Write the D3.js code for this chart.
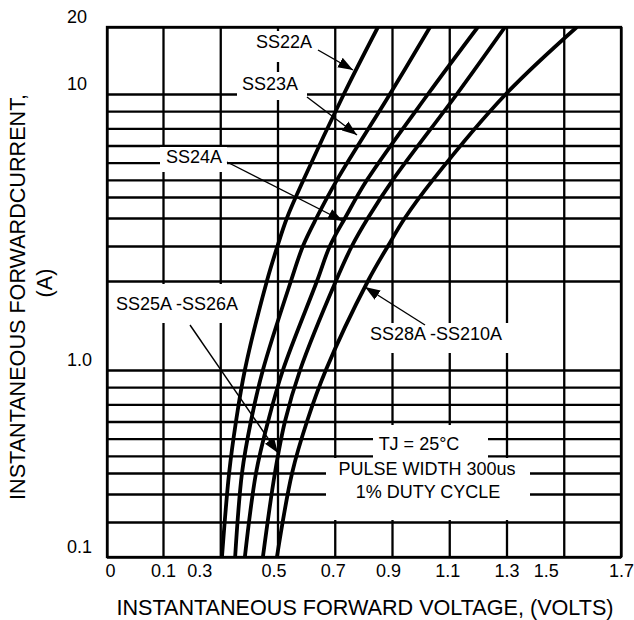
<!DOCTYPE html>
<html>
<head>
<meta charset="utf-8">
<script src="https://cdn.jsdelivr.net/npm/d3@7"></script>
<style>
  body { margin: 0; background: #fff; }
  text { font-family: "Liberation Sans", Arial, sans-serif; fill: #000; }
</style>
</head>
<body>
<div id="chart"></div>
<script>
// Horizontal grid of the datasheet paper (A)
const gridCurrents = [0.1, 0.2, 0.3, 0.4, 0.5, 0.6, 0.7, 0.8, 0.9, 1, 1.5, 2, 3, 4, 5, 6, 7, 8, 9, 10, 20];

// Forward current (A) at which every curve is read
const currents = [0.1, 0.4, 0.7, 1, 1.5, 2, 3, 5, 10, 20];

// Forward voltage (V) of each curve at those currents
const ss22a = [0.306, 0.331, 0.355, 0.386, 0.463, 0.500, 0.533, 0.591, 0.732, 0.851];
const ss23a = [0.352, 0.376, 0.407, 0.449, 0.547, 0.589, 0.636, 0.708, 0.893, 1.033];
const ss24a = [0.386, 0.425, 0.467, 0.519, 0.638, 0.683, 0.736, 0.813, 1.026, 1.200];
const ss25a = [0.449, 0.491, 0.526, 0.579, 0.704, 0.760, 0.816, 0.903, 1.127, 1.295];
const ss28a = [0.498, 0.551, 0.603, 0.669, 0.816, 0.886, 0.945, 1.043, 1.298, 1.546];

// Axis ticks
const xTicks = [0, 0.1, 0.3, 0.5, 0.7, 0.9, 1.1, 1.3, 1.5, 1.7];
const xTickLabels = ["0", "0.1", "0.3", "0.5", "0.7", "0.9", "1.1", "1.3", "1.5", "1.7"];
const yTicks = [20, 10, 1, 0.1];
const yTickLabels = ["20", "10", "1.0", "0.1"];

// Curve labels
const seriesNames = ["SS22A", "SS23A", "SS24A", "SS25A -SS26A", "SS28A -SS210A"];
const seriesValues = [ss22a, ss23a, ss24a, ss25a, ss28a];
const conditions = ["TJ = 25°C", "PULSE WIDTH 300us", "1% DUTY CYCLE"];

const margin = { top: 27, left: 107 };
const width = 514, height = 530;

const svg = d3.select("#chart")
    .append("svg")
    .attr("width", 634)
    .attr("height", 620);

const g = svg.append("g")
    .attr("transform", "translate(" + margin.left + "," + margin.top + ")");

// x: first division is 0 - 0.1, every other one is 0.2 wide
const x = d3.scaleLinear()
    .domain([0, 0.1, 1.7])
    .range([0, 56, width]);

// y: the hand drawn log-like paper of the datasheet
const y = d3.scaleLinear()
    .domain([0.1, 0.2, 0.3, 0.4, 1, 1.5, 2, 3, 4, 10, 20])
    .range([530, 495, 467, 446, 343, 254, 219, 191, 170, 67, 0]);

// Grid
const gridY = g.append("g")
    .call(d3.axisLeft(y).tickValues(gridCurrents).tickSize(-width).tickFormat(""));
const gridX = g.append("g")
    .attr("transform", "translate(0," + height + ")")
    .call(d3.axisBottom(x).tickValues(xTicks).tickSize(-height).tickFormat(""));
[gridX, gridY].forEach(a => {
    a.select(".domain").remove();
    a.selectAll("line").attr("stroke", "#000").attr("stroke-width", 2.3);
});

// White boxes behind the texts break the grid lines
const boxes = [
    [144, 4, 68, 31], [130, 45, 70, 28], [53, 120, 67, 25],
    [5, 257, 136, 39], [258, 296, 147, 30], [266, 398, 115, 33], [219, 431, 204, 62]
];
g.selectAll(".box")
    .data(boxes)
    .enter().append("rect")
    .attr("x", d => d[0]).attr("y", d => d[1])
    .attr("width", d => d[2]).attr("height", d => d[3])
    .attr("fill", "#fff");

g.append("rect")
    .attr("width", width).attr("height", height)
    .attr("fill", "none").attr("stroke", "#000").attr("stroke-width", 2.3);

// Curves
g.append("clipPath").attr("id", "plot")
    .append("rect").attr("width", width).attr("height", height);

const line = d3.line()
    .x(d => x(d[0]))
    .y(d => y(d[1]))
    .curve(d3.curveCatmullRom.alpha(0.5));

g.append("g")
    .attr("clip-path", "url(#plot)")
    .selectAll("path")
    .data(seriesValues)
    .enter().append("path")
    .attr("d", v => line(v.map((d, i) => [d, currents[i]])))
    .attr("fill", "none")
    .attr("stroke", "#000")
    .attr("stroke-width", 3.8);

// Arrows from labels to curves
svg.append("defs").append("marker")
    .attr("id", "head")
    .attr("markerUnits", "userSpaceOnUse")
    .attr("viewBox", "0 -6 15 12")
    .attr("refX", 15).attr("refY", 0)
    .attr("markerWidth", 15).attr("markerHeight", 12)
    .attr("orient", "auto")
    .append("path").attr("d", "M0,-5.5L15,0L0,5.5Z").attr("fill", "#000");

const arrows = [
    [211, 23, 246, 43], [200, 70, 250, 108], [120, 135, 236, 194],
    [83, 298, 171, 426], [318, 298, 258, 260]
];
g.selectAll(".arrow")
    .data(arrows)
    .enter().append("line")
    .attr("x1", d => d[0]).attr("y1", d => d[1])
    .attr("x2", d => d[2]).attr("y2", d => d[3])
    .attr("stroke", "#000").attr("stroke-width", 1.4)
    .attr("marker-end", "url(#head)");

// Labels
const labelPos = [[149, 21], [135, 63], [59, 136], [9, 283], [263, 313]];
g.selectAll(".label")
    .data(seriesNames)
    .enter().append("text")
    .attr("x", (d, i) => labelPos[i][0])
    .attr("y", (d, i) => labelPos[i][1])
    .attr("font-size", 18)
    .text(d => d);

const condPos = [[312, 423], [320, 448], [321, 471]];
g.selectAll(".cond")
    .data(conditions)
    .enter().append("text")
    .attr("x", (d, i) => condPos[i][0])
    .attr("y", (d, i) => condPos[i][1])
    .attr("text-anchor", "middle")
    .attr("font-size", 18)
    .text(d => d);

// Tick labels
const xNudge = { "0": 3, "0.3": -21, "0.5": -4, "0.7": -2, "0.9": -4, "1.1": -2, "1.5": -18 };
const xAxis = g.append("g")
    .attr("transform", "translate(0," + height + ")")
    .call(d3.axisBottom(x).tickValues(xTicks).tickSize(0).tickPadding(7)
        .tickFormat((d, i) => xTickLabels[i]));
xAxis.select(".domain").remove();
xAxis.selectAll("text")
    .attr("font-size", 18)
    .attr("font-family", null)
    .attr("dx", function() { return xNudge[this.textContent] || 0; });

const yAxis = g.append("g")
    .call(d3.axisLeft(y).tickValues(yTicks).tickSize(0)
        .tickFormat((d, i) => yTickLabels[i]));
yAxis.select(".domain").remove();
yAxis.selectAll("text")
    .attr("font-size", 18)
    .attr("font-family", null)
    .attr("text-anchor", "start")
    .attr("x", -40)
    .attr("dy", -5);

// Axis titles
svg.append("text")
    .attr("x", 365).attr("y", 615)
    .attr("text-anchor", "middle")
    .attr("font-size", 21.6)
    .text("INSTANTANEOUS FORWARD VOLTAGE, (VOLTS)");

svg.append("text")
    .attr("transform", "translate(25,297) rotate(-90)")
    .attr("text-anchor", "middle")
    .attr("font-size", 21.6)
    .text("INSTANTANEOUS FORWARDCURRENT,");

svg.append("text")
    .attr("transform", "translate(52,283) rotate(-90)")
    .attr("text-anchor", "middle")
    .attr("font-size", 21.6)
    .text("(A)");
</script>
</body>
</html>
